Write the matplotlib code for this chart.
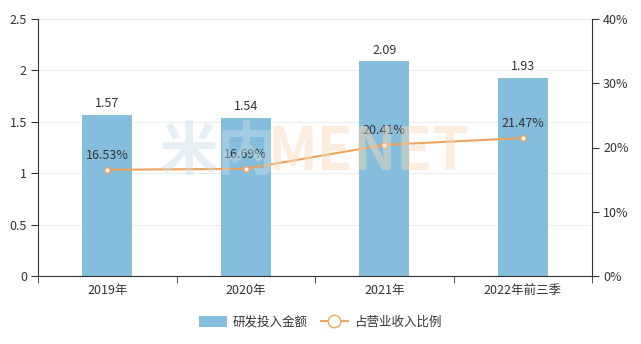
import matplotlib
matplotlib.use("Agg")
import matplotlib.pyplot as plt
from matplotlib.lines import Line2D
from matplotlib.patches import Patch
import numpy as np

plt.rcParams['font.family'] = ['Noto Sans CJK SC', 'DejaVu Sans']

categories = ["2019年", "2020年", "2021年", "2022年前三季"]
amounts = [1.57, 1.54, 2.09, 1.93]
ratios = [16.53, 16.69, 20.41, 21.47]
left_ticks = [0, 0.5, 1, 1.5, 2, 2.5]
left_labels = ["0", "0.5", "1", "1.5", "2", "2.5"]
right_ticks = [0, 10, 20, 30, 40]
right_labels = ["0%", "10%", "20%", "30%", "40%"]

W, H = 641, 344
fig = plt.figure(figsize=(W/100, H/100), dpi=100)
ax = fig.add_axes([38/W, (H-276)/H, (592-38)/W, (276-19)/H])
ax2 = ax.twinx()

bar_color = "#85BEDC"
line_color = "#EDA35E"
text_color = "#333333"
axis_color = "#333333"

x = np.arange(len(categories))
ax.bar(x, amounts, width=0.36, color=bar_color, zorder=2)
for xi, v in zip(x, amounts):
    ax.text(xi, v + 0.045, f"{v:.2f}", ha="center", va="bottom", fontsize=9, color=text_color, zorder=5)

ax.set_xlim(-0.5, len(categories) - 0.5)
ax.set_ylim(0, 2.5)
ax.set_yticks(left_ticks)
ax.set_yticklabels(left_labels)
ax.set_xticks(x)
ax.set_xticklabels(categories)
ax.set_xticks(np.arange(len(categories) + 1) - 0.5, minor=True)
ax.tick_params(axis="x", which="major", length=0, labelsize=9, colors=text_color, pad=6)
ax.tick_params(axis="x", which="minor", length=5, color=axis_color, direction="out")
ax.tick_params(axis="y", length=5, labelsize=9, colors=text_color, pad=3)
ax.tick_params(axis="y", color=axis_color)
ax.yaxis.grid(True, color="#EEEEEE", linewidth=0.8, zorder=0)
ax.set_axisbelow(True)
for s in ["top", "right"]:
    ax.spines[s].set_visible(False)
ax.spines["left"].set_color(axis_color)
ax.spines["bottom"].set_color(axis_color)

ax2.plot(x, ratios, color=line_color, linewidth=1.5, marker="o", markersize=4,
         markerfacecolor="white", markeredgecolor=line_color, markeredgewidth=1, zorder=4)
for xi, v in zip(x, ratios):
    ax2.text(xi, v + 1.2, f"{v:.2f}%", ha="center", va="bottom", fontsize=9, color=text_color, zorder=5)
ax2.set_ylim(0, 40)
ax2.set_yticks(right_ticks)
ax2.set_yticklabels(right_labels)
ax2.tick_params(axis="y", length=5, labelsize=9, colors=text_color, color=axis_color, pad=3)
for s in ["top", "left", "bottom"]:
    ax2.spines[s].set_visible(False)
ax2.spines["right"].set_color(axis_color)

# watermark
fig.text(0.34, 0.555, "米内", fontsize=42, color="#C8DCE8", alpha=0.45, ha="center", va="center", fontweight="bold")
fig.text(0.575, 0.555, "MENET", fontsize=42, color="#F9D9B8", alpha=0.45, ha="center", va="center", fontweight="bold")

handles = [Patch(facecolor=bar_color, edgecolor="none"),
           Line2D([0], [0], color=line_color, linewidth=1.5, marker="o", markersize=9,
                  markerfacecolor="white", markeredgecolor=line_color)]
fig.legend(handles, ["研发投入金额", "占营业收入比例"], loc="center", bbox_to_anchor=(0.5, 1-322/H),
           ncol=2, frameon=False, fontsize=9, handlelength=2.2, handleheight=1.0,
           columnspacing=1.0, handletextpad=0.5, labelcolor=text_color)

fig.savefig("out.png", dpi=100)
